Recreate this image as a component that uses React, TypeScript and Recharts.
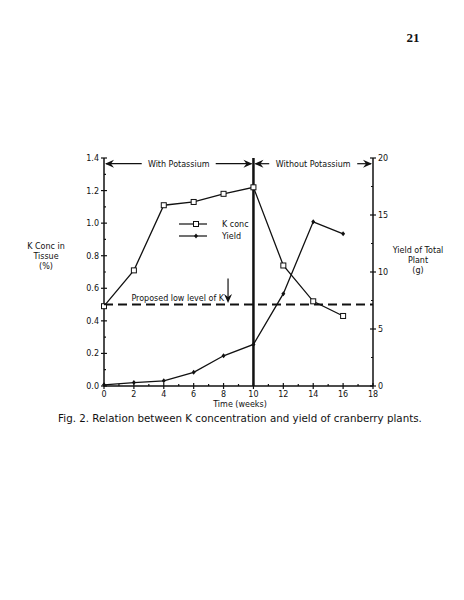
import { LineChart, Line, XAxis, YAxis, ReferenceLine } from 'recharts';

const weeks = [0, 2, 4, 6, 8, 10, 12, 14, 16];
const kConc = [0.49, 0.71, 1.11, 1.13, 1.18, 1.22, 0.74, 0.52, 0.43];
const yieldG = [0.1, 0.3, 0.45, 1.2, 2.65, 3.65, 8.1, 14.4, 13.35];

const xTicks = [0, 1, 2, 3, 4, 5, 6, 7, 8, 9, 10, 11, 12, 13, 14, 15, 16, 17, 18];
const leftTicks = [0, 0.1, 0.2, 0.3, 0.4, 0.5, 0.6, 0.7, 0.8, 0.9, 1.0, 1.1, 1.2, 1.3, 1.4];
const rightTicks = [0, 2.5, 5, 7.5, 10, 12.5, 15, 17.5, 20];

const lowLevel = 0.5;
const switchWeek = 10;

const data = weeks.map((w, i) => ({ week: w, k: kConc[i], y: yieldG[i] }));

const FONT = '"DejaVu Sans", sans-serif';
const INK = '#111';

function arrowHead(x: number, y: number, dir: 'left' | 'right' | 'down') {
  if (dir === 'down') {
    return <path d={`M${x},${y} L${x - 4},${y - 9} L${x},${y - 6} L${x + 4},${y - 9} Z`} fill={INK} />;
  }
  const s = dir === 'left' ? 1 : -1;
  return <path d={`M${x},${y} L${x + s * 9},${y - 4} L${x + s * 6},${y} L${x + s * 9},${y + 4} Z`} fill={INK} />;
}

function rangeArrow(text: string, textW: number) {
  return (p: any) => {
    const { x1, y1, x2 } = p;
    const mid = (x1 + x2) / 2;
    return (
      <g>
        <line x1={x1 + 2} y1={y1} x2={mid - textW / 2 - 4} y2={y1} stroke={INK} strokeWidth={1.2} />
        <line x1={mid + textW / 2 + 4} y1={y1} x2={x2 - 2} y2={y1} stroke={INK} strokeWidth={1.2} />
        {arrowHead(x1 + 1, y1, 'left')}
        {arrowHead(x2 - 1, y1, 'right')}
        <text x={mid} y={y1 + 3} textAnchor="middle" fontSize={8} fontFamily={FONT} fill={INK}>
          {text}
        </text>
      </g>
    );
  };
}

function lowArrow(p: any) {
  const { x1, y1, y2 } = p;
  return (
    <g>
      <line x1={x1} y1={y1} x2={x1} y2={y2 - 4} stroke={INK} strokeWidth={1.2} />
      {arrowHead(x1, y2, 'down')}
      <text x={x1 - 4} y={y2 - 2} textAnchor="end" fontSize={8} fontFamily={FONT} fill={INK}>
        Proposed low level of K
      </text>
    </g>
  );
}

function XTick(p: any) {
  const v = p.payload.value;
  const major = v % 2 === 0;
  return (
    <g>
      <line x1={p.x} x2={p.x} y1={p.y - (major ? 3 : 2)} y2={p.y + (major ? 3 : 0)} stroke={INK} strokeWidth={1.2} />
      {major && (
        <text x={p.x} y={p.y + 11} textAnchor="middle" fontSize={8} fontFamily={FONT} fill={INK}>
          {v}
        </text>
      )}
    </g>
  );
}

function LeftTick(p: any) {
  const v = p.payload.value;
  const major = Math.round(v * 10) % 2 === 0;
  return (
    <g>
      <line x1={p.x - (major ? 3 : 0)} x2={p.x + (major ? 3 : 2)} y1={p.y} y2={p.y} stroke={INK} strokeWidth={1.2} />
      {major && (
        <text x={p.x - 5} y={p.y + 3} textAnchor="end" fontSize={8} fontFamily={FONT} fill={INK}>
          {v.toFixed(1)}
        </text>
      )}
    </g>
  );
}

function RightTick(p: any) {
  const v = p.payload.value;
  const major = v % 5 === 0;
  return (
    <g>
      <line x1={p.x - (major ? 3 : 2)} x2={p.x + (major ? 3 : 0)} y1={p.y} y2={p.y} stroke={INK} strokeWidth={1.2} />
      {major && (
        <text x={p.x + 5} y={p.y + 3} textAnchor="start" fontSize={8} fontFamily={FONT} fill={INK}>
          {v}
        </text>
      )}
    </g>
  );
}

const SquareDot = (p: any) => (
  <rect key={p.index} x={p.cx - 2.5} y={p.cy - 2.5} width={5} height={5} fill="#fff" stroke={INK} strokeWidth={1} />
);
const DiamondDot = (p: any) => (
  <path key={p.index} d={`M${p.cx},${p.cy - 2.5} L${p.cx + 2},${p.cy} L${p.cx},${p.cy + 2.5} L${p.cx - 2},${p.cy} Z`} fill={INK} />
);

function LegendBox() {
  return (
    <svg width={80} height={26} style={{ position: 'absolute', left: 179, top: 218, overflow: 'visible' }}>
      <line x1={0} y1={6} x2={28} y2={6} stroke={INK} strokeWidth={1.2} />
      <rect x={14.5} y={3.5} width={5} height={5} fill="#fff" stroke={INK} />
      <text x={43} y={9} fontSize={8} fontFamily={FONT} fill={INK}>K conc</text>
      <line x1={0} y1={18} x2={28} y2={18} stroke={INK} strokeWidth={1.2} />
      <path d="M17,15.5 L19,18 L17,20.5 L15,18 Z" fill={INK} />
      <text x={43} y={21} fontSize={8} fontFamily={FONT} fill={INK}>Yield</text>
    </svg>
  );
}

const label: React.CSSProperties = {
  position: 'absolute',
  fontFamily: FONT,
  fontSize: 8,
  color: INK,
  textAlign: 'center',
  lineHeight: '10px',
};

export default function App() {
  return (
    <div style={{ position: 'absolute', top: 0, left: 0, width: 464, height: 600, background: '#fff' }}>
      <div style={{ position: 'absolute', left: 396, top: 30, width: 34, textAlign: 'center', fontFamily: '"Liberation Serif", serif', fontSize: 13, fontWeight: 'bold', color: INK }}>
        21
      </div>
      <LineChart width={464} height={600} data={data} margin={{ top: 158, right: 51, bottom: 194, left: 64 }}>
        <XAxis
          dataKey="week"
          type="number"
          domain={[0, 18]}
          ticks={xTicks}
          interval={0}
          tickSize={0}
          tickMargin={0}
          tick={XTick}
          height={20}
          axisLine={{ stroke: INK, strokeWidth: 1.5 }}
        />
        <YAxis
          yAxisId="left"
          domain={[0, 1.4]}
          ticks={leftTicks}
          interval={0}
          tickSize={0}
          tickMargin={0}
          tick={LeftTick}
          width={40}
          axisLine={{ stroke: INK, strokeWidth: 1.5 }}
        />
        <YAxis
          yAxisId="right"
          orientation="right"
          domain={[0, 20]}
          ticks={rightTicks}
          interval={0}
          tickSize={0}
          tickMargin={0}
          tick={RightTick}
          width={40}
          axisLine={{ stroke: INK, strokeWidth: 1.5 }}
        />
        <ReferenceLine yAxisId="left" y={lowLevel} stroke={INK} strokeWidth={2} strokeDasharray="9 5" />
        <ReferenceLine yAxisId="left" x={switchWeek} stroke={INK} strokeWidth={2.5} />
        <ReferenceLine
          yAxisId="left"
          segment={[{ x: 0, y: 1.365 }, { x: 10, y: 1.365 }]}
          ifOverflow="visible"
          shape={rangeArrow('With Potassium', 66)}
        />
        <ReferenceLine
          yAxisId="left"
          segment={[{ x: 10, y: 1.365 }, { x: 18, y: 1.365 }]}
          ifOverflow="visible"
          shape={rangeArrow('Without Potassium', 80)}
        />
        <ReferenceLine
          yAxisId="left"
          segment={[{ x: 8.3, y: 0.66 }, { x: 8.3, y: 0.51 }]}
          ifOverflow="visible"
          shape={lowArrow}
        />
        <Line yAxisId="left" dataKey="k" name="K conc" stroke={INK} strokeWidth={1.3} dot={SquareDot} isAnimationActive={false} />
        <Line yAxisId="right" dataKey="y" name="Yield" stroke={INK} strokeWidth={1.3} dot={DiamondDot} isAnimationActive={false} />
      </LineChart>
      <LegendBox />
      <div style={{ ...label, left: 6, top: 242, width: 80 }}>
        K Conc in
        <br />
        Tissue
        <br />
        (%)
      </div>
      <div style={{ ...label, left: 378, top: 246, width: 80 }}>
        Yield of Total
        <br />
        Plant
        <br />
        (g)
      </div>
      <div style={{ ...label, left: 190, top: 400, width: 100 }}>Time (weeks)</div>
      <div style={{ ...label, left: 10, top: 411, width: 460, fontSize: 10.3, lineHeight: '14px' }}>
        Fig. 2. Relation between K concentration and yield of cranberry plants.
      </div>
    </div>
  );
}
